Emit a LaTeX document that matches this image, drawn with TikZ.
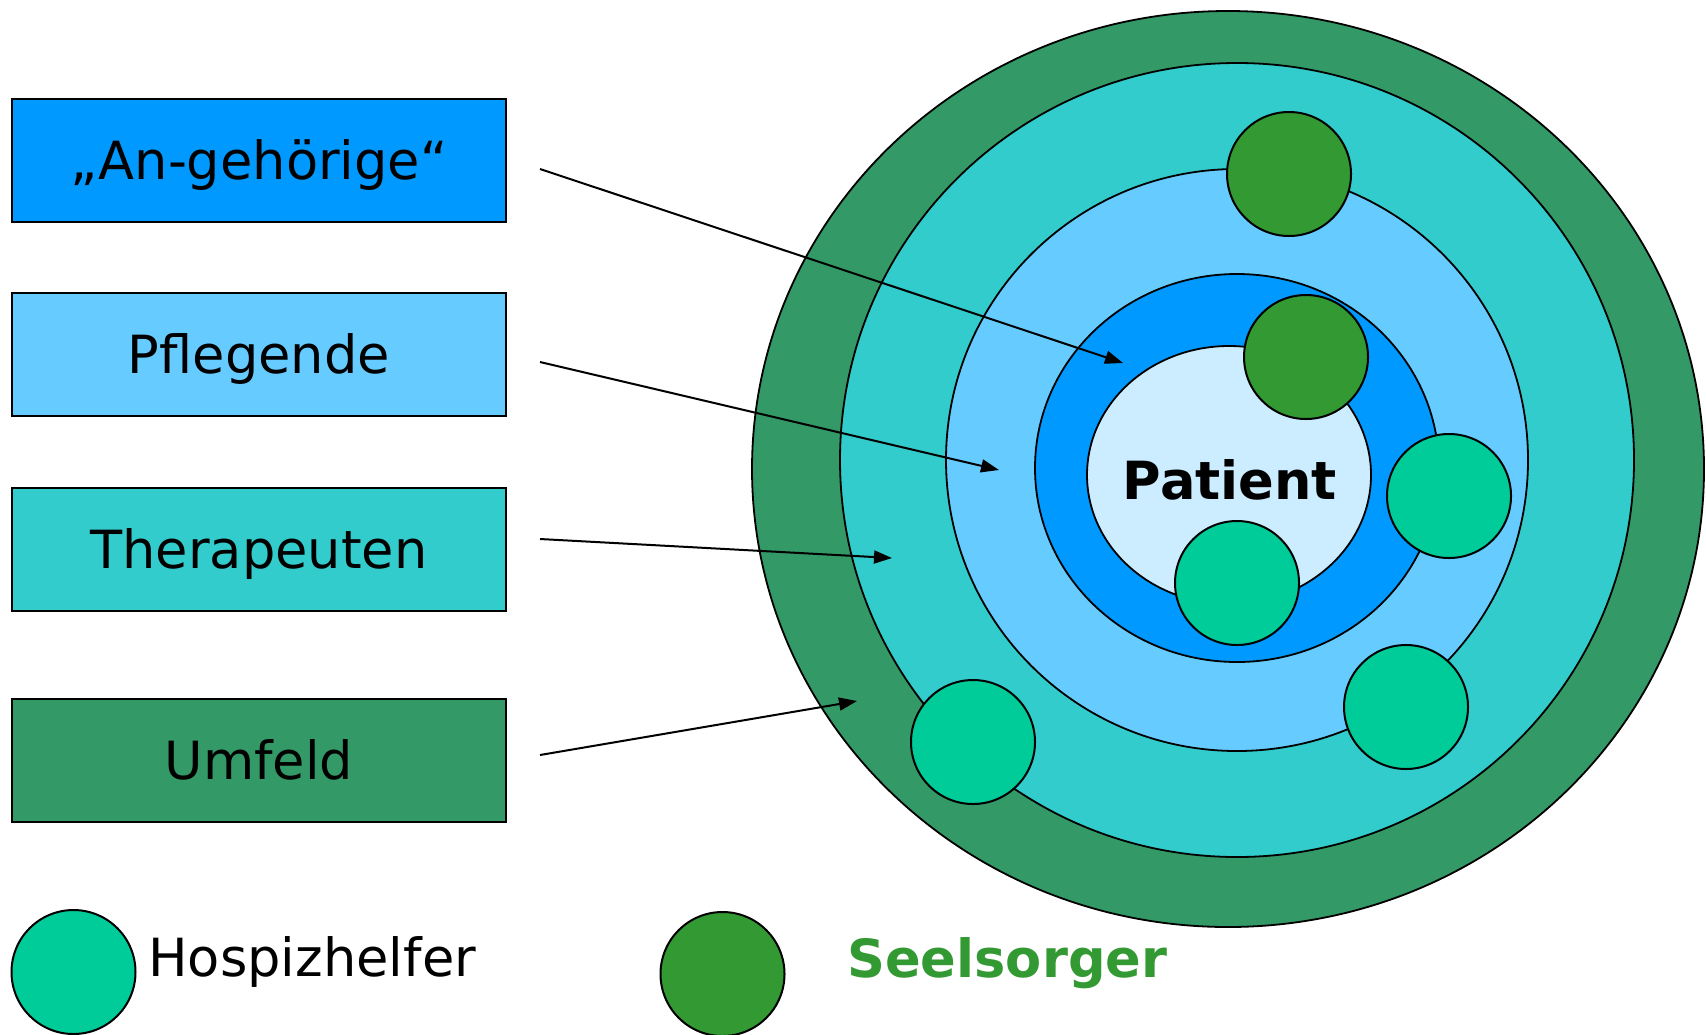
\documentclass[tikz,border=0pt]{standalone}
\usepackage{fontspec}
\setmainfont{DejaVu Sans}
\usetikzlibrary{arrows.meta}
\definecolor{cAngeh}{HTML}{0099FF}
\definecolor{cPflege}{HTML}{66CCFF}
\definecolor{cTherap}{HTML}{33CCCC}
\definecolor{cUmfeld}{HTML}{339966}
\definecolor{cPatient}{HTML}{CCECFF}
\definecolor{cHospiz}{HTML}{00CC99}
\definecolor{cSeel}{HTML}{339933}
\begin{document}
\begin{tikzpicture}[x=0.5pt,y=-0.5pt,
  bigfont/.style={font=\fontsize{26.3}{31}\selectfont},
  capbox/.style={text height=19.2pt,text depth=0pt},
  ring/.style={draw=black,line width=0.9pt},
  rolebox/.style={draw=black,line width=1pt,rectangle,minimum width=247pt,minimum height=61.5pt,
    inner sep=0pt,bigfont,capbox},
  dot/.style={circle,draw=black,line width=1pt,minimum size=62pt,inner sep=0pt},
  hospiz/.style={dot,fill=cHospiz},
  seel/.style={dot,fill=cSeel},
  pointer/.style={draw=black,line width=1pt,-{Triangle[length=9pt,width=6.5pt]}}]
\useasboundingbox (0,0) rectangle (1706,1034);
\fill[white] (0,0) rectangle (1706,1034);

% concentric care rings
\draw[ring,fill=cUmfeld] (1228,469) ellipse [x radius=238pt,y radius=229pt];
\draw[ring,fill=cTherap] (1237,460) ellipse [x radius=198.5pt,y radius=198.5pt];
\draw[ring,fill=cPflege] (1237,460) ellipse [x radius=145.5pt,y radius=145.5pt];
\draw[ring,fill=cAngeh] (1237,468) ellipse [x radius=101pt,y radius=97pt];
\draw[ring,fill=cPatient] (1229,475) ellipse [x radius=71pt,y radius=64.5pt];

% helpers placed in the rings
\node[seel] (s1) at (1289,174) {};
\node[seel] (s2) at (1306,357) {};
\node[hospiz] (h1) at (1449,496) {};
\node[hospiz] (h2) at (1237,583) {};
\node[hospiz] (h3) at (1406,707) {};
\node[hospiz] (h4) at (973,742) {};

\node[font=\fontsize{26.3}{31}\selectfont\bfseries,capbox,inner sep=0pt] (pat) at (1230,480) {Patient};

% role boxes
\node[rolebox,fill=cAngeh] (bA) at (259,160.5) {„An-gehörige“};
\node[rolebox,fill=cPflege] (bP) at (259,354.5) {Pflegende};
\node[rolebox,fill=cTherap] (bT) at (259,549) {Therapeuten};
\node[rolebox,fill=cUmfeld] (bU) at (259,760) {Umfeld};

% pointers from the boxes into their rings
\coordinate (aA) at (540,169);   \coordinate (eA) at (1123,363);
\coordinate (aP) at (540,362);   \coordinate (eP) at (999,470);
\coordinate (aT) at (540,539);   \coordinate (eT) at (892,558);
\coordinate (aU) at (540,755);   \coordinate (eU) at (857,701);
\draw[pointer] (aA) -- (eA);
\draw[pointer] (aP) -- (eP);
\draw[pointer] (aT) -- (eT);
\draw[pointer] (aU) -- (eU);

% legend
\node[hospiz] (lh) at (73.5,972) {};
\node[bigfont,anchor=base west,inner sep=0pt] (lht) at (148,976) {Hospizhelfer};
\node[seel] (ls) at (722.5,974) {};
\node[font=\fontsize{26.3}{31}\selectfont\bfseries,text=cSeel,anchor=base west,inner sep=0pt] (lst) at (847,977) {Seelsorger};
\end{tikzpicture}
\end{document}
